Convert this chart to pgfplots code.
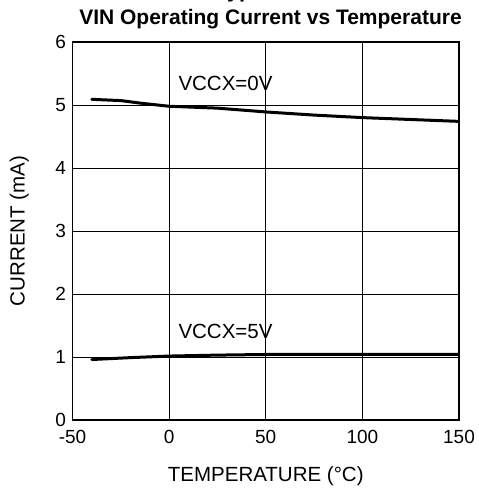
\documentclass[border=0pt]{standalone}
\usepackage{pgfplots}
\pgfplotsset{compat=1.18}
\usepackage{fontspec}
\setmainfont{Liberation Sans}
\begin{document}
\begin{tikzpicture}
\begin{axis}[
  at={(0,0)}, anchor=south west,
  scale only axis,
  width=386.5pt, height=378pt,
  xmin=-50, xmax=150, ymin=0, ymax=6,
  xtick={-50,0,50,100,150},
  ytick={0,1,2,3,4,5,6},
  grid=major,
  major grid style={black, line width=0.8pt},
  axis line style={black, line width=1.4pt},
  major tick length=0pt,
  /pgf/number format/assume math mode=true,
  tick label style={font=\fontsize{19}{22}\selectfont},
  xticklabel style={yshift=-7pt},
  yticklabel style={xshift=-3pt},
  xlabel={TEMPERATURE (°C)},
  ylabel={CURRENT (mA)},
  label style={font=\fontsize{20.5}{24}\selectfont},
  xlabel style={at={(axis description cs:0.5,0)}, anchor=north, yshift=-43pt},
  ylabel style={at={(axis description cs:0,0.5)}, anchor=south, yshift=40pt},
]
\addplot[black, line width=3pt, line cap=round] coordinates {
(-40,5.09) (-25,5.07) (-15,5.03) (0,4.98) (25,4.95) (50,4.89) (75,4.84) (100,4.80) (125,4.77) (150,4.74)
};
\addplot[black, line width=3pt, line cap=round] coordinates {
(-40,0.96) (-20,0.99) (0,1.015) (25,1.03) (50,1.04) (100,1.04) (150,1.04)
};
\node[anchor=base west, inner sep=0pt, font=\fontsize{20.5}{24}\selectfont] at (axis cs:4.75,5.238) {VCCX=0V};
\node[anchor=base west, inner sep=0pt, font=\fontsize{20.5}{24}\selectfont] at (axis cs:4.75,1.297) {VCCX=5V};
\end{axis}
\node[anchor=base, inner sep=0pt, font=\fontsize{21}{25}\selectfont\bfseries] at (198pt,395pt) {VIN Operating Current vs Temperature};
\node[anchor=base west, inner sep=0pt, font=\fontsize{22}{26}\selectfont\bfseries] at (142.5pt,422pt) {Typical Performance Characteristics};
\pgfresetboundingbox
\path[use as bounding box] (-72.5pt,-73pt) rectangle (406.5pt,420pt);
\end{tikzpicture}
\end{document}
